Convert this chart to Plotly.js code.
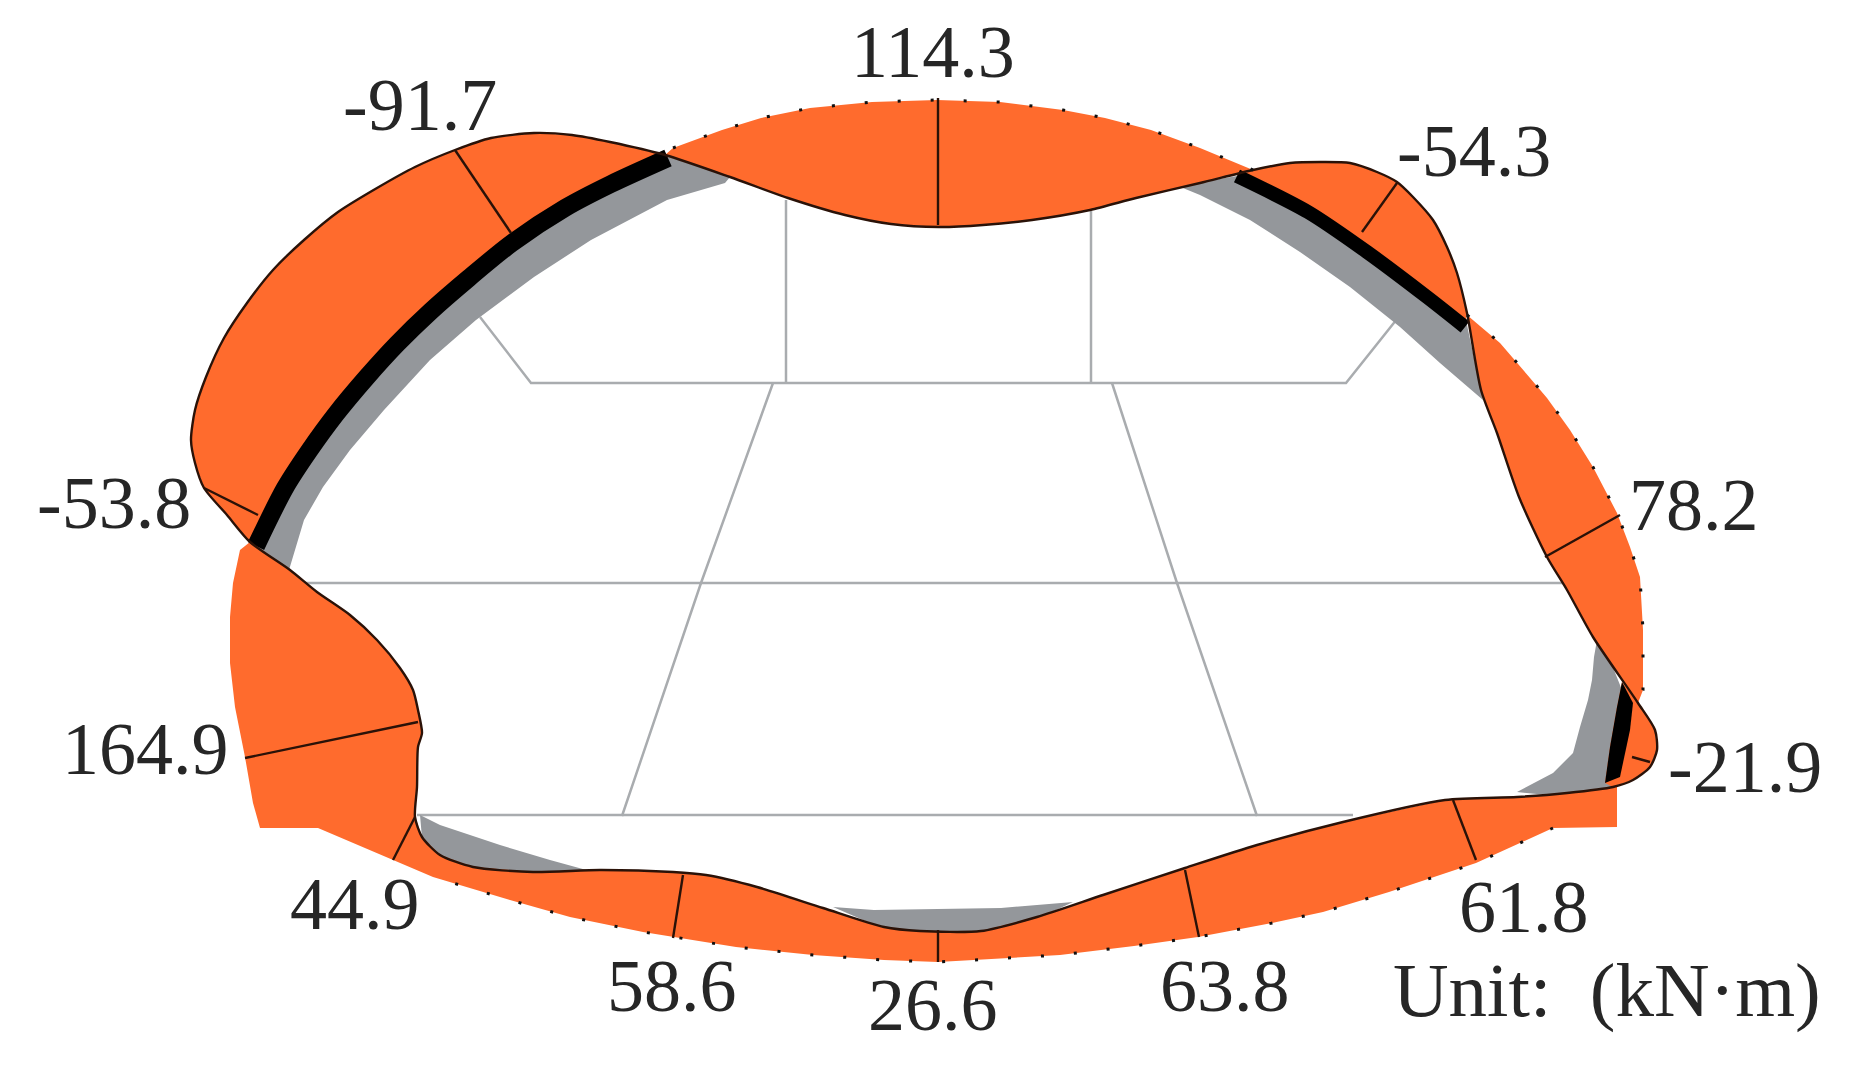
<!DOCTYPE html>
<html>
<head>
<meta charset="utf-8">
<script src="https://cdn.plot.ly/plotly-3.0.1.min.js"></script>
<style>html,body{margin:0;padding:0;background:#fff}#chart{width:1864px;height:1065px}</style>
</head>
<body>
<div id="chart"></div>
<script>
// Lining outline (drawing units = reference pixels)
const liningLeftX = [250,262,285,308,335,365,396,430,468,511,564,610,664,730,725,667,591,534,476,430,384,350,323,304,289];
const liningLeftY = [542,537,487,450,413,377,343,310,277,242,207,183,155,177,183,200,240,277,320,360,410,450,487,520,570];
const liningRightX = [1178,1200,1250,1300,1350,1400,1440,1483,1467,1427,1367,1308,1237];
const liningRightY = [186,195,220,252,287,327,363,400,325,297,252,212,176];
const liningLowRightX = [1597,1594,1592,1588,1580,1573,1553,1517,1567,1613,1622,1610];
const liningLowRightY = [640,657,680,700,727,753,773,792,797,787,690,660];
const liningLowLeftX = [420,440,500,550,590,533,473,440,422];
const liningLowLeftY = [815,825,845,860,871,874,869,857,838];
const liningBottomX = [833,874,1001,1073,1037,981,920,884];
const liningBottomY = [907,910,908,902,919,933,933,929];

// Reinforcement bands
const barLeftX = [256,285,309,336,366,397,431,469,512,565,611,668];
const barLeftY = [546,488,451,414,378,344,311,278,243,208,184,158];
const barRightX = [1237,1308,1367,1427,1465];
const barRightY = [176,212,252,297,327];
const barShortX = [1622,1633,1630,1620,1605,1610,1617];
const barShortY = [682,703,730,777,783,747,707];

// Closed bending-moment curve
const curveX = [250,290,317,350,377,400,413,418,422,418,417,415,422,440,473,533,600,673,706,757,823,884,920,981,1037,1103,1185,1257,1343,1445,1517,1567,1613,1633,1650,1657,1655,1638,1593,1567,1547,1519,1497,1481,1467,1457,1447,1433,1413,1397,1377,1350,1323,1290,1253,1200,1136,1090,1032,983,939,891,845,788,730,665,610,572,534,491,455,415,377,338,304,273,247,224,206,195,191,195,204,227,250];
const curveY = [542,570,592,615,640,668,690,710,733,747,787,817,837,855,867,872,870,872,875,887,908,927,931,931,917,895,868,845,822,800,797,793,787,780,767,750,730,703,637,590,557,497,433,390,313,273,247,220,197,182,172,163,162,163,170,183,198,210,220,225,227,224,215,198,177,155,142,135,133,138,150,167,188,212,240,270,303,338,377,410,440,463,488,515,542];

// Filled lobes: outer arc pieces
const lowerOuterX = [1613,1617,1617,1553,1476,1389,1323,1272,1198,1134,1060,991,938,884,813,736,680,643,570,510,433,393,318,260,253,245,235,230,230,233,240];
const lowerOuterY = [786,787,827,828,863,892,912,923,937,946,955,959,962,960,955,947,938,932,917,900,877,860,828,828,803,757,707,663,617,583,550];
const crownOuterX = [673,722,761,810,872,937,1000,1063,1105,1151,1200,1253];
const crownOuterY = [148,130,118,108,102,100,102,110,118,130,148,170];
const rightOuterX = [1467,1500,1530,1547,1570,1593,1617,1630,1640,1643,1643,1638];
const rightOuterY = [315,343,378,398,430,467,513,547,577,630,690,702];

// Section (value) lines
const sectionStartX = [938,455,1397,1620,204,245,415,683,938,1185,1453,1632];
const sectionStartY = [98,150,183,515,488,758,817,875,930,870,800,757];
const sectionEndX = [938,511,1362,1545,258,418,393,673,938,1199,1476,1650];
const sectionEndY = [225,233,232,557,515,722,860,938,962,937,860,762];

// Grey mesh lines
const meshTopX = [480,531,1346,1397];
const meshTopY = [317,383,383,319];
const meshV1X = [786,786]; const meshV1Y = [200,383];
const meshV2X = [1091,1091]; const meshV2Y = [210,383];
const meshSlantLX = [773,701,622]; const meshSlantLY = [383,583,816];
const meshSlantRX = [1112,1177,1257]; const meshSlantRY = [383,583,816];
const meshMidX = [295,1564]; const meshMidY = [583,583];
const meshLowX = [417,1353]; const meshLowY = [815,815];

// Labels
const labelText = ['114.3','-91.7','-54.3','78.2','-53.8','164.9','-21.9','44.9','58.6','26.6','63.8','61.8','Unit:&nbsp;&nbsp;(kN·m)'];
const labelX = [933,420,1474,1694,114,145,1745,355,672,933,1225,1524,1607];
const labelY = [52,105,151,505,503,749,767,904,986,1005,986,907,990];

const ORANGE = '#FF6B2D', GREY = '#94979B', MESH = '#A9ACAF';
const traces = [];
function poly(x, y, color){ traces.push({type:'scatter',mode:'lines',x:x.concat([x[0]]),y:y.concat([y[0]]),fill:'toself',fillcolor:color,line:{width:0,color:color},hoverinfo:'skip',showlegend:false}); }
function line(x, y, color, width, extra){ traces.push({type:'scatter',mode:'lines',x:x,y:y,line:Object.assign({color:color,width:width},extra||{}),hoverinfo:'skip',showlegend:false}); }

[[meshTopX,meshTopY],[meshV1X,meshV1Y],[meshV2X,meshV2Y],[meshSlantLX,meshSlantLY],[meshSlantRX,meshSlantRY],[meshMidX,meshMidY],[meshLowX,meshLowY]].forEach(p=>line(p[0],p[1],MESH,2.5));

poly(liningLeftX,liningLeftY,GREY);
poly(liningRightX,liningRightY,GREY);
poly(liningLowRightX,liningLowRightY,GREY);
poly(liningLowLeftX,liningLowLeftY,GREY);
poly(liningBottomX,liningBottomY,GREY);

const seg = (a,i,j)=>a.slice(i,j+1);
poly(seg(curveX,0,32).concat(lowerOuterX), seg(curveY,0,32).concat(lowerOuterY), ORANGE);
poly(crownOuterX.concat(seg(curveX,54,65)), crownOuterY.concat(seg(curveY,54,65)), ORANGE);
poly(rightOuterX.concat(seg(curveX,37,44)), rightOuterY.concat(seg(curveY,37,44)), ORANGE);
poly(seg(curveX,65,84).concat(barLeftX), seg(curveY,65,84).concat(barLeftY), ORANGE);
poly(seg(curveX,44,54).concat(barRightX), seg(curveY,44,54).concat(barRightY), ORANGE);
poly(seg(curveX,32,37).concat(barShortX.slice(0,1).concat([1617,1610,1605])), seg(curveY,32,37).concat(barShortY.slice(0,1).concat([707,747,783])), ORANGE);

line(barLeftX,barLeftY,'#000',18,{shape:'spline',smoothing:0.8});
line(barRightX,barRightY,'#000',14,{shape:'spline',smoothing:0.8});
poly(barShortX,barShortY,'#000');

for(let i=0;i<sectionStartX.length;i++){ line([sectionStartX[i],sectionEndX[i]],[sectionStartY[i],sectionEndY[i]],'#2a1208',2.4); }
line(curveX,curveY,'#2a1208',2.4,{shape:'spline',smoothing:0.7});
[[crownOuterX,crownOuterY],[rightOuterX,rightOuterY],[lowerOuterX.slice(3,21),lowerOuterY.slice(3,21)]].forEach(p=>line(p[0],p[1],'#111',3,{dash:'3px,30px'}));

const annotations = labelText.map((t,i)=>({x:labelX[i],y:labelY[i],xref:'x',yref:'y',text:t,showarrow:false,xanchor:'center',yanchor:'middle',
  font:{family:'"Liberation Serif", serif',size:i===12?77:74,color:'#262626'}}));

Plotly.newPlot('chart',traces,{
  width:1864,height:1065,margin:{l:0,r:0,t:0,b:0,pad:0},
  paper_bgcolor:'#fff',plot_bgcolor:'#fff',showlegend:false,
  xaxis:{range:[0,1864],visible:false,fixedrange:true},
  yaxis:{range:[1065,0],visible:false,fixedrange:true},
  annotations:annotations
},{displayModeBar:false,staticPlot:true});
</script>
</body>
</html>
